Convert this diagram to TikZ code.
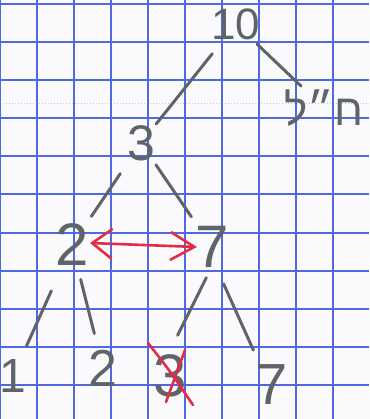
\documentclass[tikz,border=0pt]{standalone}
\usepackage{fontspec}
\setmainfont{Liberation Sans}
\newfontfamily\hebfont[Script=Hebrew]{Liberation Sans}
\TeXXeTstate=1
\usetikzlibrary{arrows.meta,calc}
\definecolor{paper}{RGB}{250,250,252}
\definecolor{gridblue}{RGB}{80,105,225}
\definecolor{faintblue}{RGB}{185,200,240}
\definecolor{pencil}{RGB}{95,100,105}
\definecolor{redpen}{RGB}{225,45,70}
\tikzset{
  lbl/.style={text=pencil, inner sep=0pt, font=\fontsize{#1}{#1}\selectfont},
  edge/.style={draw=pencil, line width=3pt, line cap=round},
  redmark/.style={draw=redpen, line width=2.6pt, line cap=round, line join=round},
  gridline/.style={draw=gridblue, line width=2pt},
}
\begin{document}
\begin{tikzpicture}[x=1pt,y=-1pt]
  \fill[paper] (0,0) rectangle (369,419);
  \useasboundingbox (0,0) rectangle (369,419);
  % graph paper
  \draw[draw=faintblue, line width=1pt, dotted] (0,104) -- (369,104);
  \foreach \k in {0,...,9} \draw[gridline] (37*\k-0.5,0) -- (37*\k-0.5,419);
  \foreach \k in {0,...,10} \draw[gridline] (0,4.5+38*\k) -- (369,4.5+38*\k);
  % nodes
  \node[lbl=44] (root) at (236,24) {10};
  \node[lbl=44] (nil) at (324,108) {\hebfont\beginR ח״ל\endR};
  \node[lbl=50] (n3) at (141,143) {3};
  \node[lbl=60] (n2) at (72,245) {2};
  \node[lbl=60] (n7) at (212,247) {7};
  \node[lbl=48] (l1) at (13,376) {1};
  \node[lbl=52] (l2) at (103,368) {2};
  \node[lbl=60] (l3) at (170,376) {3};
  \node[lbl=58] (l7) at (272,385) {7};
  % connectors
  \draw[edge] ($(root)!0.25!(n3)$) -- ($(root)!0.84!(n3)$);
  \draw[edge] ($(root)!0.24!(nil)$) -- ($(root)!0.74!(nil)$);
  \draw[edge] ($(n3)!0.30!(n2)$) -- ($(n3)!0.72!(n2)$);
  \draw[edge] ($(n3)!0.21!(n7)$) -- ($(n3)!0.71!(n7)$);
  \draw[edge] ($(n2)!0.35!(l1)$) -- ($(n2)!0.77!(l1)$);
  \draw[edge] ($(n2)!0.28!(l2)$) -- ($(n2)!0.72!(l2)$);
  \draw[edge] ($(n7)!0.23!(l3)+(4,1)$) -- ($(n7)!0.70!(l3)+(-5,-2)$);
  \draw[edge] ($(n7)!0.26!(l7)+(-4,1)$) -- ($(n7)!0.74!(l7)+(-3,1)$);
  % red swap arrow
  \draw[redmark, {Straight Barb[length=20pt,width=30pt]}-{Straight Barb[length=24pt,width=28pt]}]
    ($(n2)+(18,-2)$) -- ($(n7)+(-15,0)$);
  % red cross over leaf 3
  \draw[redmark] ($(l3)+(-22,-33)$) .. controls ($(l3)+(0,-5)$) .. ($(l3)+(23,29)$);
  \draw[redmark] ($(l3)+(15,-26)$) -- ($(l3)+(-4,26)$);
\end{tikzpicture}
\end{document}
